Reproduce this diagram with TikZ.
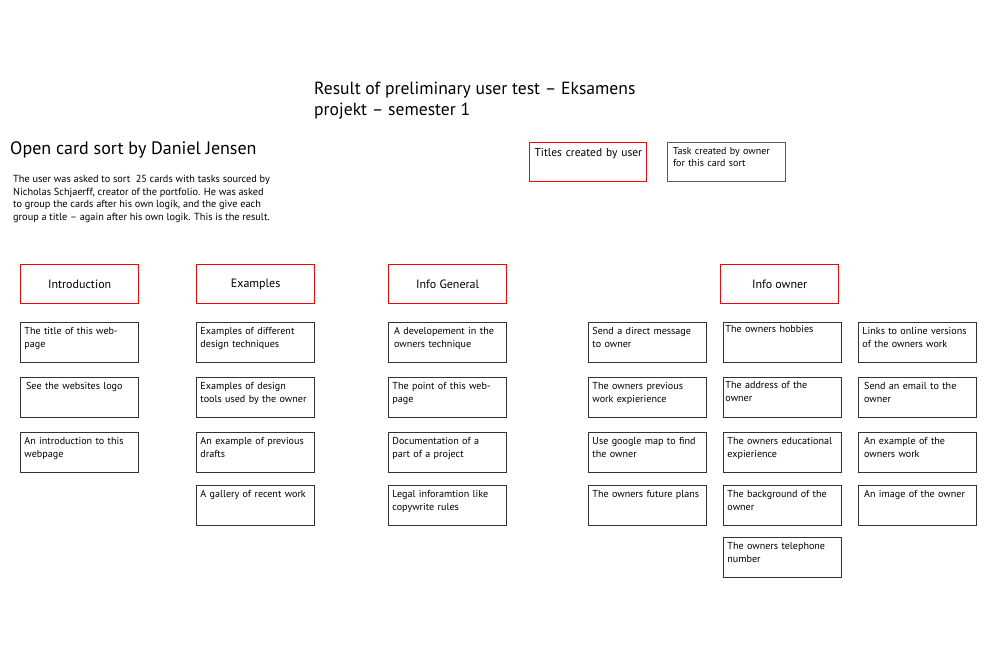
\documentclass[tikz,border=0pt]{standalone}
\usepackage{fontspec}
\setmainfont{PT Sans}
\begin{document}
\begin{tikzpicture}[x=1pt,y=-1pt,
  card/.style={draw=black!80, line width=0.9pt, anchor=north west, minimum width=118pt,
    text width=110pt, inner xsep=4pt, inner ysep=3pt, text height=9pt, text depth=25pt,
    align=left, font=\fontsize{10.1}{12.8}\selectfont},
  titlebox/.style={draw=red, line width=1.3pt, anchor=north west, minimum width=118pt,
    minimum height=39pt, align=center, font=\fontsize{12}{14}\selectfont},
  plain/.style={anchor=north west, inner sep=0pt, align=left}]
\useasboundingbox (0,0) rectangle (1000,667);
% headings
\node[plain, font=\fontsize{17.6}{21}\selectfont] (title) at (314,82)
  {Result of preliminary user test – Eksamens\\projekt – semester 1};
\node[plain, font=\fontsize{18}{21}\selectfont] (sub) at (10,141) {Open card sort by Daniel Jensen};
\node[plain, font=\fontsize{10.3}{12.7}\selectfont] (para) at (13,175)
  {The user was asked to sort \ 25 cards with tasks sourced by\\
   Nicholas Schjaerff, creator of the portfolio. He was asked\\
   to group the cards after his own logik, and the give each\\
   group a title – again after his own logik. This is the result.};
% legend
\node[draw=red, line width=1.3pt, anchor=north west, minimum width=117pt, text width=111pt,
  inner xsep=3pt, inner ysep=3pt, text height=11pt, text depth=22pt, align=left,
  font=\fontsize{11.5}{14}\selectfont] (legU) at (529,142) {\,\mbox{Titles created by user}};
\node[card, draw=black!65, font=\fontsize{10}{12.5}\selectfont, text depth=24pt] (legO) at (667,142)
  {\,Task created by owner\\\,for this card sort};
% titles
\node[titlebox] (tIntro) at (20,264) {Introduction};
\node[titlebox] (tEx) at (196,264) {Examples};
\node[titlebox] (tGen) at (388,264) {Info General};
\node[titlebox] (tOwn) at (720,264) {Info owner};
% column 1
\node[card] (a1) at (20,322) {The title of this web-\\page};
\node[card] (a2) at (20,377) {\,See the websites logo};
\node[card] (a3) at (20,432) {An introduction to this\\webpage};
% column 2
\node[card] (b1) at (196,322) {Examples of different\\design techniques};
\node[card] (b2) at (196,377) {Examples of design\\\mbox{tools used by the owner}};
\node[card] (b3) at (196,432) {An example of previous\\drafts};
\node[card] (b4) at (196,485) {A gallery of recent work};
% column 3
\node[card] (c1) at (388,322) {\,A developement in the\\\,owners technique};
\node[card] (c2) at (388,377) {The point of this web-\\page};
\node[card] (c3) at (388,432) {Documentation of a\\part of a project};
\node[card] (c4) at (388,485) {Legal inforamtion like\\copywrite rules};
% column 4
\node[card] (d1) at (588,322) {Send a direct message\\to owner};
\node[card] (d2) at (588,377) {The owners previous\\work expierience};
\node[card] (d3) at (588,432) {Use google map to find\\the owner};
\node[card] (d4) at (588,485) {\mbox{The owners future plans}};
% column 5
\node[card, inner xsep=2pt, text width=114pt, text height=7pt, text depth=27pt] (e1) at (723,322) {The owners hobbies};
\node[card, inner xsep=2pt, text width=114pt, text height=8pt, text depth=26pt] (e2) at (723,377) {The address of the\\owner};
\node[card] (e3) at (723,432) {The owners educational\\expierience};
\node[card] (e4) at (723,485) {The background of the\\owner};
\node[card] (e5) at (723,537) {The owners telephone\\number};
% column 6
\node[card] (f1) at (858,322) {\mbox{Links to online versions}\\of the owners work};
\node[card] (f2) at (858,377) {\,Send an email to the\\\,owner};
\node[card] (f3) at (858,432) {\,An example of the\\\,owners work};
\node[card] (f4) at (858,485) {\,An image of the owner};
\end{tikzpicture}
\end{document}
